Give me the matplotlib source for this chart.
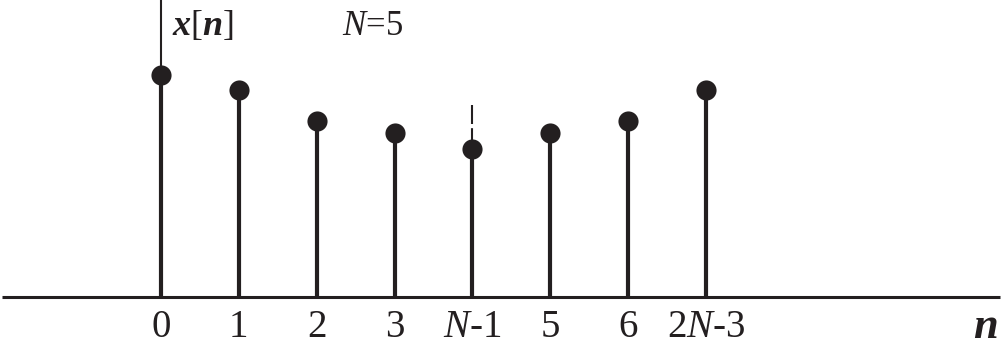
import matplotlib
matplotlib.use("Agg")
import matplotlib.pyplot as plt

plt.rcParams['font.family'] = 'Liberation Serif'
plt.rcParams['mathtext.fontset'] = 'custom'
plt.rcParams['mathtext.rm'] = 'Liberation Serif'
plt.rcParams['mathtext.it'] = 'Liberation Serif:italic'
plt.rcParams['mathtext.bf'] = 'Liberation Serif:italic:bold'

FAM = 'Liberation Serif'
INK = '#231f20'

n_vals = [0, 1, 2, 3, 4, 5, 6, 7]
x_vals = [222, 207, 176, 164, 148, 164, 176, 207]
tick_labels = ['0', '1', '2', '3', r'$N$-1', '5', '6', r'2$N$-3']
dashed_idx = 4
dashed_top = 192

fig = plt.figure(figsize=(10.05, 3.5), dpi=100)
ax = fig.add_axes([0, 0, 1, 1])
sp = 77.86
ax.set_xlim(-161 / sp, (1005 - 161) / sp)
ax.set_ylim(-53, 297)
ax.axis('off')

# axes lines
ax.plot([-159 / sp, (1000 - 161) / sp], [0, 0], color=INK, lw=2.2, solid_capstyle='butt')
ax.plot([0, 0], [0, 297], color=INK, lw=1.5)

# stems
for n, v in zip(n_vals, x_vals):
    ax.plot([n, n], [0, v], color=INK, lw=3.0, solid_capstyle='butt')
ax.plot(n_vals, x_vals, 'o', color=INK, markersize=14.5, markeredgewidth=0)

# dashed extension
ax.plot([n_vals[dashed_idx]] * 2, [x_vals[dashed_idx], dashed_top], color=INK,
        lw=1.5, dashes=(10, 2))

# tick labels
for n, lab in zip(n_vals, tick_labels):
    ax.text(n, -40, lab, ha='center', va='baseline', fontsize=28, color=INK, family=FAM)

ax.text((985 - 161) / sp, -41, 'n', ha='center', va='baseline', fontsize=32,
        style='italic', weight='bold', color=INK, family=FAM)
ax.text((172 - 161) / sp, 262, r'$\mathbf{x}$[$\mathbf{n}$]', ha='left', va='baseline',
        fontsize=26, color=INK, family=FAM)
ax.text((342 - 161) / sp, 262, r'$N$=5', ha='left', va='baseline', fontsize=25,
        color=INK, family=FAM)

fig.savefig('out.png', dpi=100)
